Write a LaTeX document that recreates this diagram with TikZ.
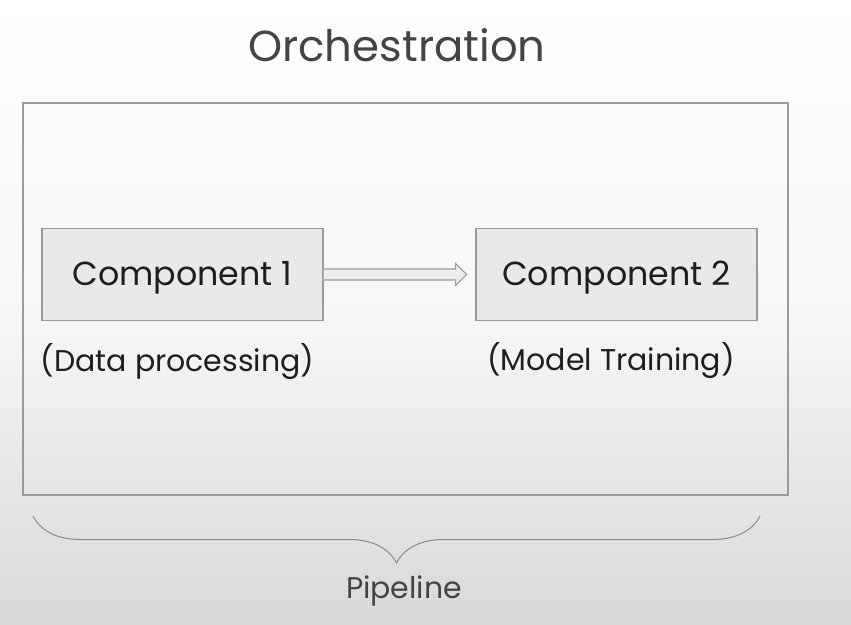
\documentclass[tikz,border=0pt]{standalone}
\usepackage{fontspec}
\setmainfont{Poppins}
\usetikzlibrary{decorations.pathreplacing}
\definecolor{bordergray}{HTML}{9A9A9A}
\definecolor{bracegray}{HTML}{8A8A8A}
\definecolor{boxfill}{HTML}{E9E9E9}
\definecolor{arrowfill}{HTML}{EDEDED}
\definecolor{textdark}{HTML}{1E1E1E}
\definecolor{titlegray}{HTML}{444444}
\tikzset{
  x=1pt, y=1pt,
  comp/.style={draw=bordergray, line width=1.2pt, fill=boxfill, minimum width=281pt, minimum height=92pt, inner sep=0pt, text height=23pt, text depth=0pt, font=\fontsize{33.3}{38}\selectfont, text=textdark},
  sublabel/.style={font=\fontsize{30}{35}\selectfont, text=textdark, inner sep=0pt, anchor=base},
  fatarrow/.style={draw=bordergray, fill=arrowfill, line width=1.2pt, line join=miter},
}
\begin{document}
\begin{tikzpicture}
\shade[top color=white, bottom color=white!85!black, middle color=white!97!black, shading angle=0] (0,0) rectangle (851,624);
\useasboundingbox (0,0) rectangle (851,624);
\node[font=\fontsize{43.4}{50}\selectfont, text=titlegray, inner sep=0pt, anchor=base] (title) at (397,562) {Orchestration};
\node[draw=bordergray, line width=1.2pt, minimum width=765pt, minimum height=392pt, inner sep=0pt] (orch) at (405.5,325) {};
\node[comp] (c1) at (182.5,349.5) {Component 1};
\node[comp] (c2) at (616.5,349.5) {Component 2};
\node[sublabel] (l1) at (177.5,252) {(Data processing)};
\node[sublabel] (l2) at (611,253) {(Model Training)};
\draw[fatarrow] (c1.east) ++(0,5.5) -- ++(132,0) -- ++(0,5.5) -- ++(11,-11) -- ++(-11,-11) -- ++(0,5.5) -- ++(-132,0);
\coordinate (bl) at (33,108);
\coordinate (br) at (760,108);
\draw[bracegray, line width=1pt, decorate, decoration={brace, mirror, amplitude=47pt}] (bl) -- (br);
\node[font=\fontsize{29.9}{34}\selectfont, text=titlegray, inner sep=0pt, anchor=base] (pipe) at (404,26) {Pipeline};
\end{tikzpicture}
\end{document}
